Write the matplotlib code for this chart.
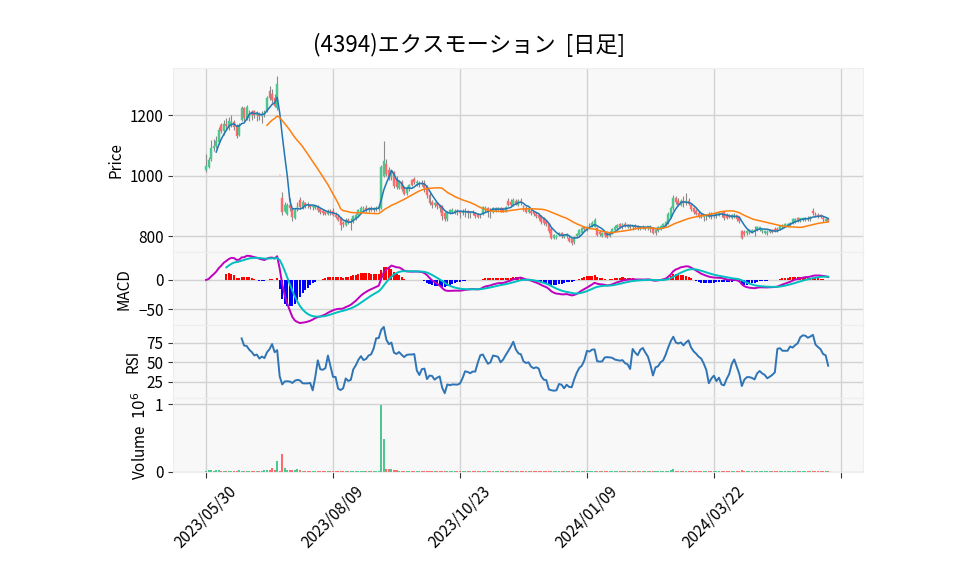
import matplotlib
matplotlib.use("Agg")
import matplotlib.pyplot as plt
import numpy as np
import pandas as pd

plt.rcParams['font.family'] = ['Noto Sans CJK JP', 'DejaVu Sans']
plt.rcParams['axes.unicode_minus'] = True

title = "(4394)エクスモーション  [日足]"
tick_pos = [0, 50, 100, 150, 200, 250]
tick_labels = ["2023/05/30", "2023/08/09", "2023/10/23", "2024/01/09", "2024/03/22", ""]

opens = [1020, 1030, 1055, 1092, 1098, 1112, 1168, 1148, 1170, 1160,
         1170, 1178, 1162, 1135, 1185, 1222, 1190, 1190, 1210, 1212,
         1200, 1205, 1198, 1205, 1215, 1280, 1268, 1255, 1222, 1003,
         925, 885, 875, 905, 890, 862, 890, 920, 895, 910,
         905, 902, 898, 895, 900, 890, 885, 880, 875, 885,
         885, 872, 865, 862, 845, 838, 855, 848, 850, 860,
         870, 882, 888, 892, 888, 892, 888, 890, 890, 893,
         1000, 1040, 1020, 995, 1012, 990, 960, 980, 960, 942,
         955, 985, 990, 975, 972, 975, 975, 962, 938, 915,
         902, 910, 902, 900, 878, 858, 878, 880, 882, 884,
         880, 878, 882, 885, 878, 880, 878, 872, 870, 875,
         890, 895, 890, 882, 885, 888, 895, 892, 885, 918,
         912, 905, 918, 905, 918, 900, 895, 880, 885, 880,
         875, 870, 868, 860, 850, 840, 825, 795, 796, 805,
         810, 798, 800, 795, 792, 780, 800, 805, 812, 830,
         822, 830, 835, 832, 828, 815, 802, 812, 815, 800,
         812, 822, 828, 840, 830, 840, 832, 836, 830, 834,
         830, 828, 832, 826, 828, 832, 828, 810, 818, 825,
         832, 838, 845, 865, 895, 925, 918, 905, 918, 910,
         918, 905, 892, 885, 878, 872, 865, 866, 872, 875,
         868, 870, 872, 876, 880, 872, 870, 862, 865, 870,
         865, 818, 815, 810, 812, 815, 822, 822, 822, 818,
         812, 810, 815, 822, 825, 826, 826, 830, 832, 838,
         838, 845, 848, 860, 852, 854, 855, 862, 858, 885,
         875, 872, 870, 862, 850, 858]
highs = [1070, 1062, 1117, 1120, 1130, 1160, 1175, 1185, 1190, 1195,
         1200, 1185, 1170, 1175, 1230, 1228, 1232, 1215, 1215, 1215,
         1212, 1210, 1212, 1215, 1262, 1295, 1285, 1270, 1330, 1003,
         945, 912, 910, 925, 895, 895, 912, 930, 920, 915,
         912, 908, 905, 905, 902, 895, 890, 885, 890, 890,
         892, 880, 870, 865, 850, 860, 862, 860, 872, 878,
         890, 900, 900, 905, 898, 900, 896, 900, 905, 1035,
         1115, 1055, 1030, 1020, 1015, 1000, 985, 985, 965, 965,
         972, 990, 995, 985, 982, 985, 985, 968, 945, 920,
         915, 912, 905, 905, 882, 885, 890, 892, 890, 890,
         888, 890, 892, 888, 885, 888, 882, 876, 875, 900,
         900, 898, 892, 898, 896, 897, 898, 895, 900, 925,
         922, 925, 922, 922, 925, 905, 900, 898, 890, 885,
         880, 875, 872, 865, 855, 845, 830, 808, 806, 815,
         815, 808, 810, 800, 795, 800, 812, 825, 832, 835,
         835, 845, 850, 862, 832, 820, 815, 815, 818, 818,
         828, 836, 840, 845, 844, 848, 842, 840, 838, 840,
         838, 835, 838, 835, 835, 838, 830, 825, 835, 838,
         845, 850, 880, 900, 938, 932, 925, 922, 932, 942,
         925, 910, 898, 890, 885, 878, 875, 874, 880, 882,
         875, 880, 882, 880, 884, 876, 875, 874, 876, 872,
         868, 822, 820, 822, 824, 825, 835, 835, 832, 826,
         822, 820, 825, 826, 830, 830, 838, 842, 845, 845,
         848, 860, 860, 865, 862, 862, 864, 866, 868, 892,
         880, 876, 874, 868, 862, 860]
lows = [1012, 1025, 1050, 1080, 1090, 1105, 1140, 1135, 1150, 1150,
        1160, 1150, 1125, 1130, 1180, 1180, 1185, 1180, 1185, 1190,
        1180, 1185, 1175, 1195, 1210, 1250, 1240, 1225, 1215, 1002,
        870, 880, 872, 885, 850, 858, 885, 890, 890, 895,
        895, 890, 888, 890, 880, 875, 872, 870, 872, 872,
        868, 860, 850, 822, 830, 835, 840, 822, 845, 855,
        865, 878, 882, 882, 880, 885, 880, 885, 885, 890,
        995, 1000, 985, 985, 960, 955, 955, 950, 935, 938,
        950, 965, 972, 965, 962, 965, 945, 925, 905, 895,
        898, 890, 880, 855, 850, 852, 875, 878, 875, 870,
        862, 872, 865, 862, 860, 872, 862, 860, 862, 872,
        880, 865, 860, 878, 880, 884, 880, 880, 882, 900,
        900, 900, 905, 900, 905, 885, 878, 878, 870, 866,
        862, 855, 840, 838, 835, 812, 790, 790, 792, 800,
        795, 795, 796, 780, 772, 775, 795, 800, 808, 822,
        818, 825, 830, 830, 800, 800, 798, 798, 796, 798,
        808, 818, 824, 828, 826, 830, 828, 825, 822, 825,
        822, 820, 825, 820, 822, 815, 808, 805, 815, 820,
        828, 835, 842, 860, 888, 908, 900, 900, 898, 905,
        902, 885, 875, 870, 860, 860, 850, 855, 860, 858,
        860, 862, 866, 865, 855, 858, 860, 858, 860, 852,
        845, 790, 800, 806, 808, 812, 800, 818, 818, 812,
        808, 805, 810, 812, 815, 815, 822, 828, 830, 832,
        835, 842, 845, 848, 848, 850, 852, 852, 852, 872,
        865, 862, 860, 848, 848, 848]
closes = [1032, 1052, 1092, 1098, 1116, 1150, 1148, 1172, 1165, 1182,
          1178, 1160, 1130, 1168, 1222, 1190, 1225, 1205, 1200, 1200,
          1205, 1198, 1205, 1210, 1255, 1255, 1250, 1230, 1302, 1002,
          880, 905, 905, 895, 865, 888, 905, 898, 912, 905,
          902, 898, 900, 902, 888, 880, 878, 875, 885, 878,
          872, 865, 855, 838, 840, 855, 848, 852, 868, 872,
          886, 895, 892, 888, 892, 888, 893, 895, 898, 1030,
          1050, 1005, 990, 1015, 965, 962, 978, 955, 940, 958,
          968, 970, 978, 978, 975, 972, 960, 935, 910, 905,
          910, 900, 892, 866, 858, 880, 886, 888, 884, 880,
          878, 882, 885, 878, 880, 876, 868, 865, 872, 896,
          892, 885, 884, 895, 892, 894, 885, 884, 898, 905,
          905, 920, 908, 918, 912, 888, 882, 895, 877, 873,
          868, 862, 848, 845, 842, 818, 795, 804, 803, 812,
          800, 805, 808, 786, 778, 796, 808, 822, 828, 826,
          832, 838, 845, 855, 805, 808, 812, 805, 798, 815,
          825, 832, 836, 832, 840, 835, 838, 832, 835, 830,
          828, 832, 828, 832, 834, 828, 812, 822, 832, 835,
          842, 848, 875, 895, 925, 912, 905, 918, 910, 918,
          908, 890, 882, 875, 868, 865, 870, 868, 866, 870,
          872, 876, 878, 874, 860, 862, 864, 872, 872, 858,
          850, 795, 808, 818, 820, 822, 818, 832, 830, 822,
          818, 816, 820, 816, 818, 820, 835, 838, 840, 842,
          845, 856, 858, 852, 860, 860, 862, 856, 864, 876,
          868, 866, 864, 858, 858, 850]
volumes_k = [12, 25, 22, 10, 25, 25, 15, 12, 10, 10,
             10, 12, 10, 25, 12, 10, 10, 10, 12, 10,
             10, 10, 12, 25, 25, 22, 60, 20, 160, 6,
             265, 55, 30, 20, 30, 20, 42, 25, 15, 12,
             10, 10, 10, 10, 10, 10, 10, 10, 10, 10,
             10, 10, 10, 15, 12, 10, 10, 12, 10, 10,
             10, 10, 10, 8, 8, 8, 8, 8, 12, 990,
             480, 40, 38, 35, 30, 25, 15, 15, 15, 12,
             12, 12, 10, 10, 10, 10, 12, 12, 15, 12,
             10, 10, 10, 12, 12, 10, 8, 8, 8, 8,
             8, 8, 8, 8, 8, 8, 8, 8, 8, 10,
             8, 8, 8, 8, 8, 8, 8, 8, 8, 10,
             8, 10, 8, 8, 8, 8, 8, 8, 8, 8,
             8, 8, 10, 8, 8, 10, 12, 8, 8, 8,
             8, 8, 8, 10, 10, 8, 8, 10, 10, 8,
             8, 8, 10, 15, 12, 8, 8, 8, 8, 8,
             8, 8, 8, 8, 8, 8, 8, 8, 8, 8,
             8, 8, 8, 8, 8, 8, 8, 8, 8, 8,
             8, 10, 15, 20, 45, 15, 10, 10, 12, 12,
             10, 8, 8, 8, 8, 8, 8, 8, 8, 8,
             8, 8, 8, 8, 8, 8, 8, 8, 8, 8,
             10, 20, 10, 8, 8, 8, 8, 8, 8, 8,
             8, 8, 8, 8, 8, 8, 8, 8, 8, 8,
             8, 10, 8, 8, 8, 8, 8, 8, 8, 12,
             8, 8, 8, 8, 8, 8]

df = pd.DataFrame({"Open": opens, "High": highs, "Low": lows,
                   "Close": closes, "Volume": np.array(volumes_k) * 1000.0})
x = np.arange(len(df))
close = df["Close"]

ma5 = close.rolling(5).mean()
ma25 = close.rolling(25).mean()
ema12 = close.ewm(span=12, adjust=False).mean()
ema26 = close.ewm(span=26, adjust=False).mean()
macd = ema12 - ema26
signal = macd.ewm(span=9, adjust=True, min_periods=9).mean()
hist = macd - signal
diff = close.diff()
gain = diff.clip(lower=0).rolling(14).mean()
loss = (-diff.clip(upper=0)).rolling(14).mean()
rsi = 100 * gain / (gain + loss)

UP = '#4dc790'
DOWN = '#fd6b6c'
FACE = '#f8f8f8'
GRID = '#d3d3d3'
up = (df["Close"] >= df["Open"]).values
cols = np.where(up, UP, DOWN)

fig = plt.figure(figsize=(9.58, 5.75), dpi=100)
L, W = 0.1809, 0.7199
ax_p = fig.add_axes([L, 0.5609, W, 0.3208])
ax_m = fig.add_axes([L, 0.4348, W, 0.1261], sharex=ax_p)
ax_r = fig.add_axes([L, 0.3078, W, 0.1270], sharex=ax_p)
ax_v = fig.add_axes([L, 0.1783, W, 0.1295], sharex=ax_p)

for ax in (ax_p, ax_m, ax_r, ax_v):
    ax.set_facecolor(FACE)
    ax.grid(True, color=GRID, linewidth=1.0)
    ax.set_axisbelow(True)
    for s in ax.spines.values():
        s.set_color('#eeeeee')
        s.set_linewidth(0.8)
    ax.tick_params(axis='y', labelsize=11, length=3.5, color='#333333')
    ax.tick_params(axis='x', length=0, labelbottom=False)

# price
ax_p.vlines(x, df["Low"], df["High"], color='#8a8a8a', linewidth=0.8, zorder=2)
body_bot = np.minimum(df["Open"], df["Close"])
body_h = np.abs(df["Close"] - df["Open"])
ax_p.bar(x, body_h, bottom=body_bot, width=0.75, color=cols, edgecolor=cols,
         linewidth=0.3, zorder=3)
ax_p.plot(x, ma5, color='#1f77b4', linewidth=1.1, zorder=4)
ax_p.plot(x, ma25, color='#ff7f0e', linewidth=1.1, zorder=4)
ax_p.set_ylim(747, 1355)
ax_p.set_yticks([800, 1000, 1200])
ax_p.set_ylabel("Price", fontsize=11)

# MACD
hcols = np.where(hist.fillna(0) >= 0, 'red', 'blue')
ax_m.bar(x, hist.fillna(0), width=0.8, color=hcols, zorder=2)
ax_m.plot(x, macd, color='m', linewidth=1.4, zorder=3)
ax_m.plot(x, signal, color='c', linewidth=1.4, zorder=3)
ax_m.set_ylim(-76.8, 46.9)
ax_m.set_yticks([-50, 0])
ax_m.set_ylabel("MACD", fontsize=11)

# RSI
ax_r.plot(x, rsi, color='#2f74b5', linewidth=1.4)
ax_r.set_ylim(4.6, 97.5)
ax_r.set_yticks([25, 50, 75])
ax_r.set_ylabel("RSI", fontsize=11)

# Volume
ax_v.bar(x, df["Volume"] / 1e6, width=0.8, color=cols, zorder=2)
ax_v.set_ylim(-0.012, 1.089)
ax_v.set_yticks([0, 1])
ax_v.set_ylabel("Volume  $10^{6}$", fontsize=11)

ax_v.set_xlim(-12.9, 258.7)
ax_v.set_xticks(tick_pos)
ax_v.set_xticklabels(tick_labels, rotation=45, fontsize=11)
ax_v.tick_params(axis='x', length=4, labelbottom=True, color='#333333')

fig.text(469 / 958, 1 - 45 / 575, title, ha='center', va='center', fontsize=16)

fig.savefig("out.png", dpi=100)
